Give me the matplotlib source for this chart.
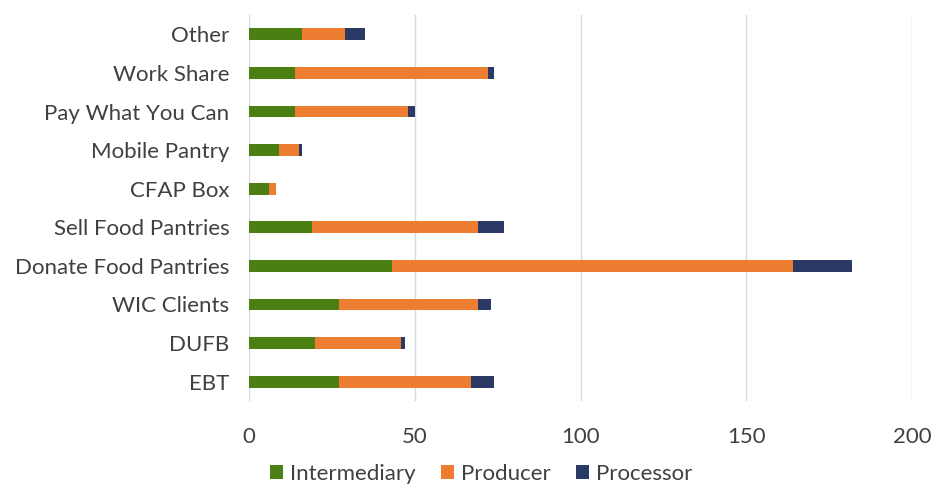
import matplotlib
matplotlib.use("Agg")
import matplotlib.pyplot as plt
import numpy as np

categories = ["EBT", "DUFB", "WIC Clients", "Donate Food Pantries", "Sell Food Pantries",
              "CFAP Box", "Mobile Pantry", "Pay What You Can", "Work Share", "Other"]
intermediary = [27, 20, 27, 43, 19, 6, 9, 14, 14, 16]
producer = [40, 26, 42, 121, 50, 2, 6, 34, 58, 13]
processor = [7, 1, 4, 18, 8, 0, 1, 2, 2, 6]
series_names = ["Intermediary", "Producer", "Processor"]
colors = ["#4C7F12", "#ED7D31", "#2B3A64"]
xticks = [0, 50, 100, 150, 200]

plt.rcParams['font.family'] = ['Lato', 'DejaVu Sans']
fig = plt.figure(figsize=(9.48, 4.87), dpi=100)
ax = fig.add_axes([249/948, 1-401/487, (912-249)/948, (401-15)/487])

y = np.arange(len(categories))
h = 0.31
left = np.zeros(len(categories))
for vals, name, c in zip([intermediary, producer, processor], series_names, colors):
    ax.barh(y, vals, height=h, left=left, color=c, label=name, zorder=3)
    left = left + np.array(vals)

ax.set_xlim(0, 200)
ax.set_ylim(-0.5, len(categories) - 0.5)
ax.set_xticks(xticks)
ax.set_xticklabels([str(t) for t in xticks])
ax.set_yticks(y)
ax.set_yticklabels(categories)
for s in ax.spines.values():
    s.set_visible(False)
ax.grid(axis='x', color='#d9d9d9', linewidth=1, zorder=0)
ax.tick_params(axis='both', length=0, labelsize=16, colors='#404040')
ax.tick_params(axis='x', pad=19)
ax.tick_params(axis='y', pad=14)

handles, labels = ax.get_legend_handles_labels()
fig.legend(handles, labels, loc='center', bbox_to_anchor=(481/948, 1-474/487), ncol=3,
           frameon=False, fontsize=16, handlelength=0.6, handleheight=0.6,
           handletextpad=0.3, columnspacing=1.15, labelcolor='#404040')

fig.savefig("out.png", dpi=100)
